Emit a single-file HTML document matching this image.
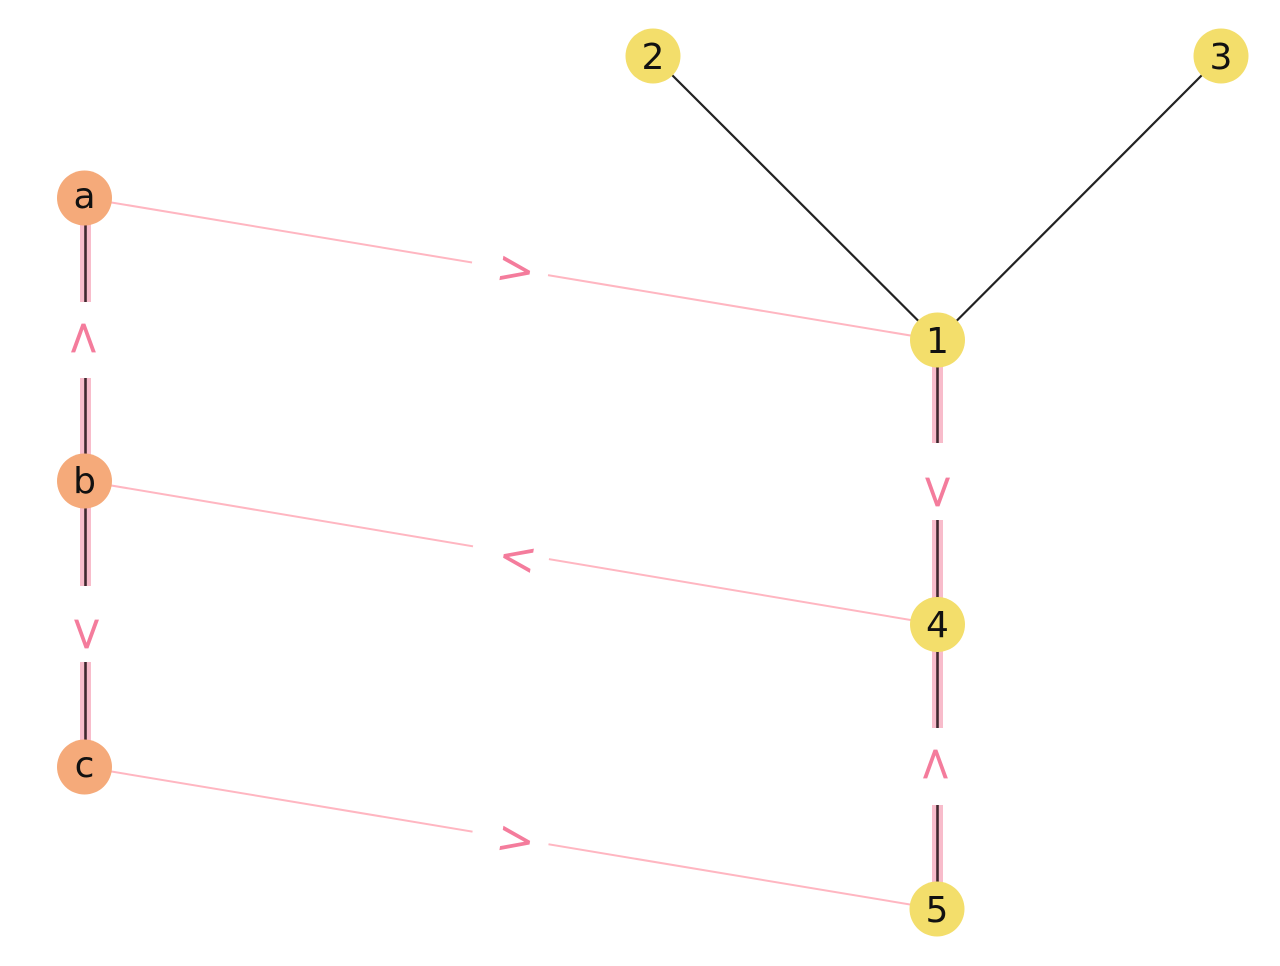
<!DOCTYPE html>
<html>
<head>
<meta charset="utf-8">
<style>
  html, body { margin: 0; padding: 0; background: #ffffff; }
  svg { display: block; }
  .nl { font-family: "DejaVu Sans", "Liberation Sans", sans-serif; font-size: 36px; fill: #111111; text-anchor: middle; }
  .el { font-family: "DejaVu Sans", "Liberation Sans", sans-serif; font-size: 46px; fill: #f47c9c; text-anchor: middle; }
</style>
</head>
<body>
<svg width="1280" height="966" viewBox="0 0 1280 966" xmlns="http://www.w3.org/2000/svg">
  <rect x="0" y="0" width="1280" height="966" fill="#ffffff"/>

  <!-- black edges -->
  <line x1="653" y1="56" x2="937.5" y2="340" stroke="#222222" stroke-width="2.2"/>
  <line x1="1221" y1="56" x2="937.5" y2="340" stroke="#222222" stroke-width="2.2"/>

  <!-- thin pink cross edges -->
  <line x1="84.5" y1="198" x2="937.5" y2="340" stroke="#ffb6c1" stroke-width="2"/>
  <line x1="84.5" y1="481" x2="937.5" y2="624.5" stroke="#ffb6c1" stroke-width="2"/>
  <line x1="84.5" y1="767" x2="937" y2="909" stroke="#ffb6c1" stroke-width="2"/>

  <!-- thick pink vertical edges -->
  <g stroke="#f8bccb" stroke-width="11">
    <line x1="85.5" y1="198" x2="85.5" y2="481"/>
    <line x1="85.5" y1="481" x2="85.5" y2="767"/>
    <line x1="937.5" y1="340" x2="937.5" y2="624.5"/>
    <line x1="937.5" y1="624.5" x2="937.5" y2="909"/>
  </g>
  <g stroke="#40282f" stroke-width="2.6">
    <line x1="85.5" y1="198" x2="85.5" y2="481"/>
    <line x1="85.5" y1="481" x2="85.5" y2="767"/>
    <line x1="937.5" y1="340" x2="937.5" y2="624.5"/>
    <line x1="937.5" y1="624.5" x2="937.5" y2="909"/>
  </g>

  <!-- label boxes (white) -->
  <rect x="66" y="302" width="40" height="76" fill="#ffffff"/>
  <rect x="66" y="586" width="40" height="76" fill="#ffffff"/>
  <rect x="918" y="443" width="40" height="77" fill="#ffffff"/>
  <rect x="918" y="728" width="40" height="77" fill="#ffffff"/>
  <g transform="translate(510,269) rotate(9.45)"><rect x="-38.5" y="-22" width="77" height="44" fill="#ffffff"/></g>
  <g transform="translate(511,552.5) rotate(9.5)"><rect x="-38.5" y="-22" width="77" height="44" fill="#ffffff"/></g>
  <g transform="translate(510.5,838) rotate(9.45)"><rect x="-38.5" y="-22" width="77" height="44" fill="#ffffff"/></g>

  <!-- edge labels -->
  <g transform="translate(516,268) rotate(9.45)"><text class="el" x="0" y="16.8">&gt;</text></g>
  <g transform="translate(518,556) rotate(9.5)"><text class="el" x="0" y="16.8">&lt;</text></g>
  <g transform="translate(516,838) rotate(9.45)"><text class="el" x="0" y="16.8">&gt;</text></g>
  <g transform="translate(81,338) rotate(-90)"><text class="el" x="0" y="16.8">&gt;</text></g>
  <g transform="translate(89,634) rotate(90)"><text class="el" x="0" y="16.8">&gt;</text></g>
  <g transform="translate(940,492) rotate(90)"><text class="el" x="0" y="16.8">&gt;</text></g>
  <g transform="translate(933,764) rotate(-90)"><text class="el" x="0" y="16.8">&gt;</text></g>

  <!-- nodes -->
  <g fill="#f5aa7a">
    <circle cx="84.5" cy="198" r="27.5"/>
    <circle cx="84.5" cy="481" r="27.5"/>
    <circle cx="84.5" cy="767" r="27.5"/>
  </g>
  <g fill="#f3de6b">
    <circle cx="937.5" cy="340" r="27.5"/>
    <circle cx="653" cy="56" r="27.5"/>
    <circle cx="1221" cy="56" r="27.5"/>
    <circle cx="937.5" cy="624.5" r="27.5"/>
    <circle cx="937" cy="909" r="27.5"/>
  </g>

  <!-- node labels -->
  <text class="nl" x="84.5" y="208">a</text>
  <text class="nl" x="84.5" y="493">b</text>
  <text class="nl" x="84.5" y="777">c</text>
  <text class="nl" x="937.5" y="353">1</text>
  <text class="nl" x="653" y="69">2</text>
  <text class="nl" x="1221" y="69">3</text>
  <text class="nl" x="937.5" y="637">4</text>
  <text class="nl" x="937" y="922">5</text>
</svg>
</body>
</html>
